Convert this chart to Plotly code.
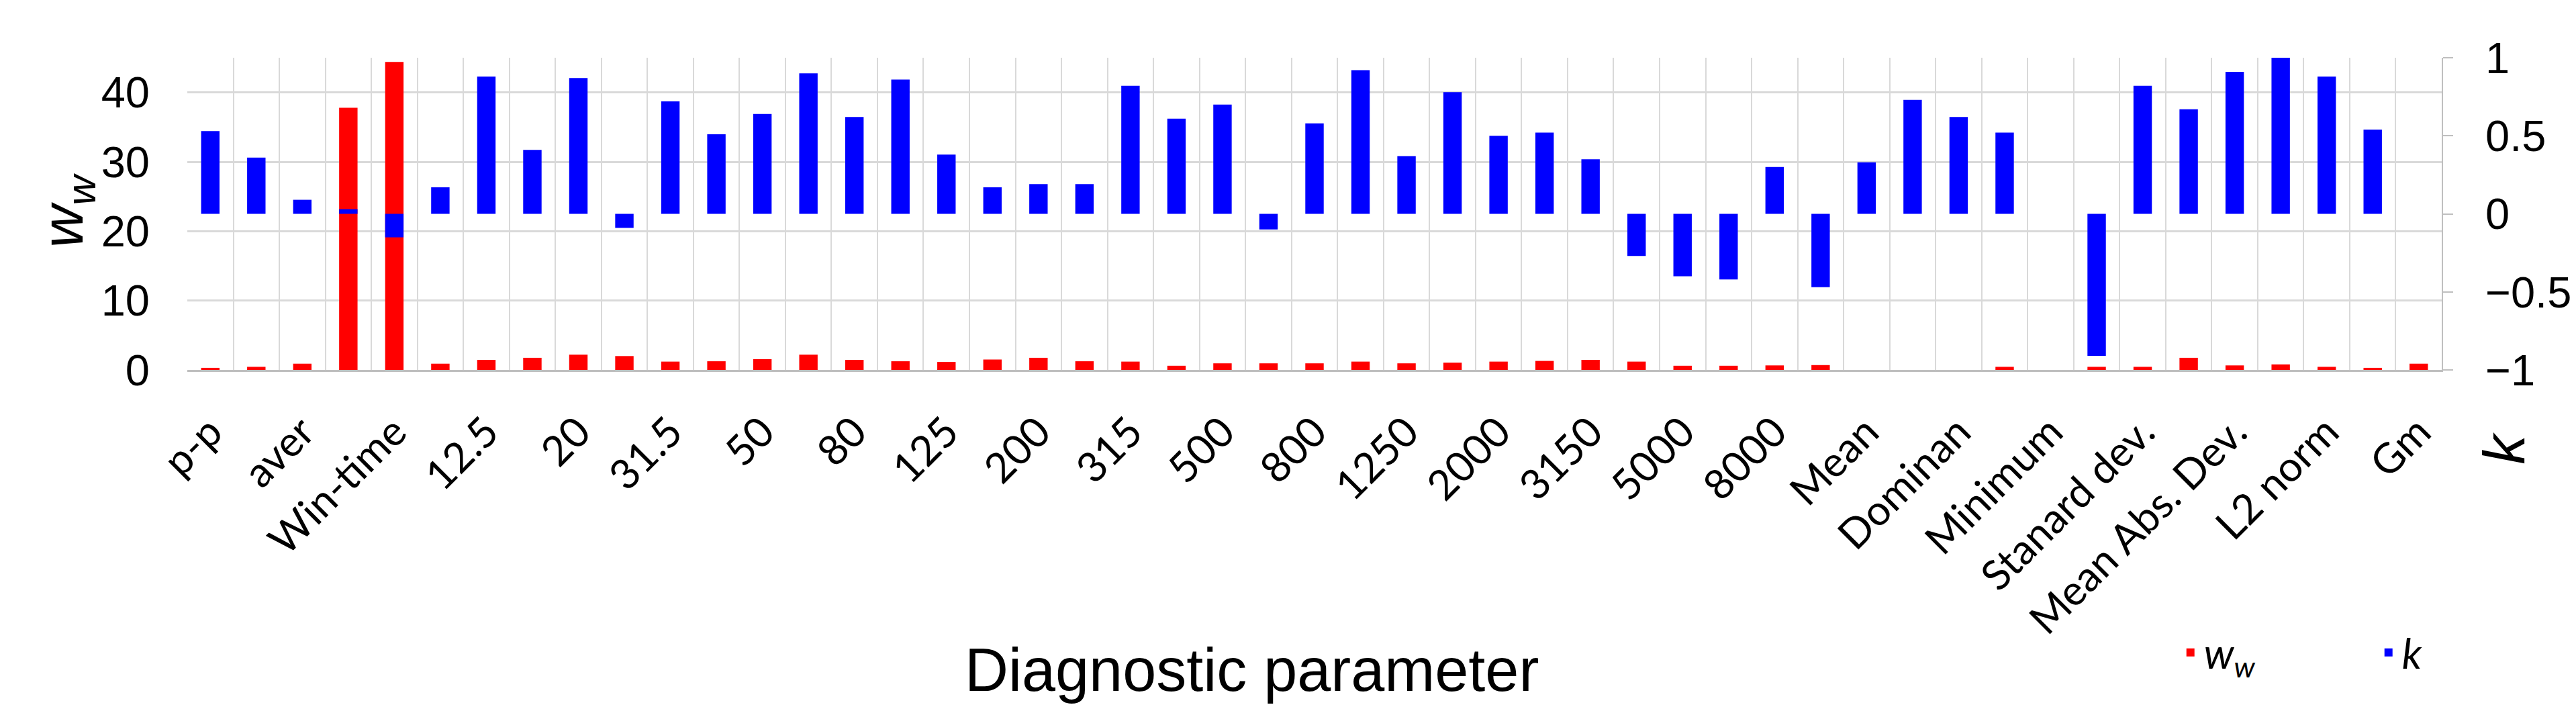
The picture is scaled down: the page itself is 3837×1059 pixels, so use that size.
import plotly.graph_objects as go

# visible category labels (every second category carries a label)
tick_labels = ["p-p", "aver", "Win-time", "12.5", "20", "31.5", "50", "80", "125",
               "200", "315", "500", "800", "1250", "2000", "3150", "5000", "8000",
               "Mean", "Dominan", "Minimum", "Stanard dev.", "Mean Abs. Dev.",
               "L2 norm", "Gm"]

# w_w per diagnostic parameter (left axis)
ww = [0.3, 0.45, 0.9, 37.8, 44.4, 0.9, 1.45, 1.75, 2.2, 2.0,
      1.2, 1.25, 1.55, 2.2, 1.45, 1.25, 1.15, 1.5, 1.75, 1.25,
      1.2, 0.6, 0.95, 0.95, 0.95, 1.2, 0.95, 1.05, 1.2, 1.3,
      1.45, 1.2, 0.6, 0.6, 0.65, 0.7, 0.0, 0.0, 0.0, 0.45,
      0.0, 0.45, 0.45, 1.75, 0.65, 0.8, 0.45, 0.3, 0.9]

# k per diagnostic parameter (right axis)
k = [0.53, 0.36, 0.09, 0.03, -0.15, 0.17, 0.88, 0.41, 0.87, -0.09,
     0.72, 0.51, 0.64, 0.90, 0.62, 0.86, 0.38, 0.17, 0.19, 0.19,
     0.82, 0.61, 0.70, -0.10, 0.58, 0.92, 0.37, 0.78, 0.50, 0.52,
     0.35, -0.27, -0.40, -0.42, 0.30, -0.47, 0.33, 0.73, 0.62, 0.52,
     0.0, -0.91, 0.82, 0.67, 0.91, 1.0, 0.88, 0.54, 0.0]

pos = list(range(len(ww)))

W, H = 3837, 1059
L, R, T, B = 271, 202, 78, 516
pw, ph = W - L - R, H - T - B

def px_x(x):
    return (x - L) / pw

def px_y(y):
    return (H - B - y) / ph

sans = "Liberation Sans, Arial, sans-serif"
grid = "#d9d9d9"
axis_grey = "#bfbfbf"

fig = go.Figure()
fig.add_trace(go.Bar(x=pos, y=ww, name="<i>w<sub>w</sub></i>",
                     marker=dict(color="#ff0000", line=dict(width=0)),
                     width=0.4, yaxis="y"))
fig.add_trace(go.Bar(x=pos, y=k, name="<i>k</i>",
                     marker=dict(color="#0000ff", line=dict(width=0)),
                     width=0.4, yaxis="y2"))

fig.update_layout(
    width=W, height=H, autosize=False,
    margin=dict(l=L, r=R, t=T, b=B),
    paper_bgcolor="white", plot_bgcolor="white",
    barmode="overlay",
    font=dict(family=sans, color="black"),
    xaxis=dict(
        range=[-0.5, len(pos) - 0.5],
        tickmode="array", tickvals=pos[::2], ticktext=tick_labels,
        tickangle=-45, ticks="", showgrid=False, zeroline=False,
        minor=dict(tickmode="linear", tick0=-0.5, dtick=1, showgrid=True,
                   gridcolor=grid, gridwidth=2, ticks=""),
        showline=True, linecolor=axis_grey, linewidth=3,
        tickfont=dict(family="Lato, Open Sans, sans-serif", size=62),
        ticklabelstandoff=28,
    ),
    yaxis=dict(
        range=[0, 45], tickvals=[0, 10, 20, 30, 40],
        showgrid=True, gridcolor=grid, gridwidth=3, zeroline=False,
        showline=False, ticks="",
        tickfont=dict(family=sans, size=65),
        ticklabelstandoff=55,
    ),
    yaxis2=dict(
        overlaying="y", side="right",
        range=[-1, 1], tickvals=[-1, -0.5, 0, 0.5, 1],
        showgrid=False, zeroline=False,
        showline=True, linecolor=axis_grey, linewidth=2,
        ticks="outside", ticklen=15, tickcolor=axis_grey, tickwidth=2,
        tickfont=dict(family=sans, size=65),
        ticklabelstandoff=35,
    ),
    legend=dict(
        orientation="h", x=px_x(3240), xanchor="left",
        y=px_y(964), yanchor="middle",
        font=dict(family="Lato, Open Sans, sans-serif", size=62),
        entrywidth=250, bgcolor="rgba(0,0,0,0)",
    ),
    annotations=[
        dict(text="Diagnostic parameter", xref="paper", yref="paper",
             x=px_x(1859), y=px_y(990), xanchor="center", yanchor="middle",
             showarrow=False, font=dict(family=sans, size=90)),
        dict(text="<i>w<sub>w</sub></i>", xref="paper", yref="paper",
             x=px_x(90), y=px_y(305), xanchor="center", yanchor="middle",
             textangle=-90, showarrow=False, font=dict(family=sans, size=88)),
        dict(text="<i>k</i>", xref="paper", yref="paper",
             x=px_x(3728), y=px_y(660), xanchor="center", yanchor="middle",
             textangle=-90, showarrow=False, font=dict(family=sans, size=88)),
    ],
)

fig.write_html("out.html")
